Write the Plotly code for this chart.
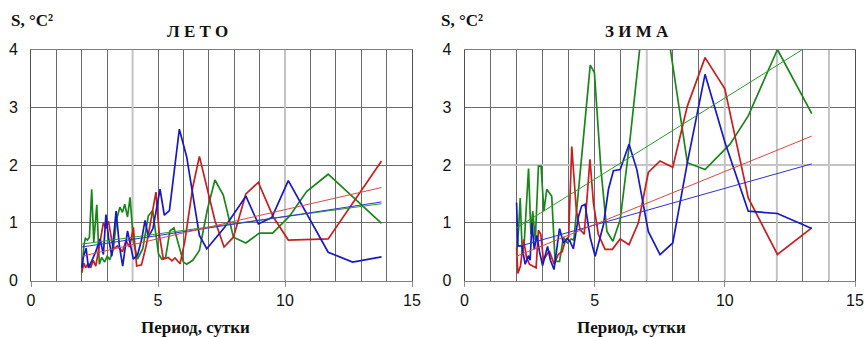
import plotly.graph_objects as go

# ---------------- DATA ----------------
# Summer (ЛЕТО)
summer_blue_x = [2.0, 2.06, 2.17, 2.26, 2.4, 2.55, 2.72, 2.85, 2.95, 3.05, 3.18, 3.35, 3.48, 3.61, 3.8, 4.03, 4.2, 4.35, 4.49, 4.62, 4.8, 5.08, 5.25, 5.45, 5.84, 6.13, 6.63, 6.92, 7.64, 8.46, 8.95, 9.48, 10.13, 11.7, 12.66, 13.8]
summer_blue_y = [0.22, 0.4, 0.56, 0.22, 0.35, 0.5, 0.72, 0.45, 1.14, 0.75, 0.42, 1.2, 0.6, 0.25, 0.86, 0.37, 0.45, 0.7, 1.04, 0.75, 0.9, 1.58, 1.13, 1.21, 2.62, 2.14, 0.78, 0.55, 0.93, 1.46, 0.98, 1.09, 1.73, 0.49, 0.32, 0.41]

summer_red_x = [2.0, 2.08, 2.15, 2.25, 2.35, 2.45, 2.55, 2.72, 2.85, 2.95, 3.05, 3.24, 3.4, 3.6, 3.74, 3.88, 4.03, 4.16, 4.35, 4.55, 4.75, 4.92, 5.05, 5.21, 5.4, 5.55, 5.67, 5.87, 6.06, 6.37, 6.63, 7.24, 7.6, 7.97, 8.46, 8.95, 9.54, 10.13, 11.7, 13.8]
summer_red_y = [0.14, 0.3, 0.22, 0.3, 0.22, 0.35, 0.25, 0.69, 1.0, 0.9, 1.03, 0.54, 0.6, 0.5, 0.69, 0.58, 0.92, 0.25, 0.27, 0.63, 1.1, 1.53, 0.8, 0.37, 0.4, 0.34, 0.39, 0.29, 0.69, 1.62, 2.15, 1.04, 0.58, 0.75, 1.5, 1.7, 1.1, 0.7, 0.72, 2.07]

summer_green_x = [2.0, 2.08, 2.14, 2.22, 2.3, 2.39, 2.47, 2.59, 2.69, 2.78, 2.9, 3.0, 3.1, 3.24, 3.37, 3.5, 3.6, 3.69, 3.8, 3.9, 4.03, 4.19, 4.4, 4.62, 4.79, 5.02, 5.15, 5.3, 5.47, 5.63, 6.0, 6.13, 6.37, 6.63, 6.94, 7.24, 7.57, 7.97, 8.46, 8.99, 9.51, 10.17, 10.85, 11.7, 13.8]
summer_green_y = [0.13, 0.6, 0.73, 0.7, 0.75, 1.58, 0.66, 1.31, 0.28, 0.4, 0.32, 0.42, 0.36, 0.54, 1.06, 1.27, 1.18, 1.32, 1.1, 1.44, 0.69, 0.37, 0.55, 1.12, 1.21, 0.46, 0.37, 0.4, 0.86, 0.91, 0.32, 0.28, 0.35, 0.52, 1.22, 1.74, 1.48, 0.75, 0.65, 0.82, 0.82, 1.11, 1.54, 1.84, 0.99]

summer_trend_x = [2.0, 13.8]
summer_trend_blue = [0.58, 1.36]
summer_trend_red = [0.42, 1.61]
summer_trend_green = [0.63, 1.33]

# Winter (ЗИМА)
winter_blue_x = [2.0, 2.05, 2.2, 2.33, 2.45, 2.52, 2.59, 2.68, 2.78, 2.88, 3.0, 3.1, 3.19, 3.3, 3.44, 3.65, 3.8, 3.95, 4.05, 4.18, 4.38, 4.5, 4.63, 4.83, 5.02, 5.34, 5.53, 5.72, 5.98, 6.32, 6.62, 7.06, 7.51, 8.0, 8.56, 9.24, 10.0, 10.9, 12.02, 13.34]
winter_blue_y = [1.35, 0.6, 0.6, 0.28, 0.43, 0.35, 1.0, 0.54, 0.78, 0.5, 0.26, 0.45, 0.59, 0.35, 0.19, 0.9, 0.65, 0.72, 0.68, 0.55, 1.11, 1.29, 1.32, 0.74, 0.42, 0.97, 1.58, 1.9, 1.92, 2.36, 1.92, 0.85, 0.45, 0.65, 2.04, 3.57, 2.4, 1.2, 1.16, 0.9]

winter_red_x = [2.0, 2.05, 2.15, 2.27, 2.38, 2.5, 2.62, 2.75, 2.84, 2.93, 3.03, 3.15, 3.26, 3.35, 3.44, 3.6, 3.75, 3.88, 4.0, 4.12, 4.3, 4.44, 4.6, 4.82, 4.95, 5.14, 5.4, 5.68, 5.98, 6.32, 6.68, 7.06, 7.51, 8.0, 8.56, 9.24, 10.0, 10.9, 12.02, 13.34]
winter_red_y = [0.57, 0.12, 0.25, 0.71, 0.4, 0.28, 0.25, 0.22, 0.87, 0.8, 0.36, 0.45, 0.51, 0.4, 0.28, 0.45, 0.5, 0.7, 0.75, 2.32, 1.2, 0.88, 0.8, 2.1, 1.35, 0.8, 0.54, 0.54, 0.72, 0.62, 1.0, 1.87, 2.07, 1.96, 3.02, 3.86, 3.32, 1.43, 0.45, 0.91]

winter_green_x = [2.0, 2.08, 2.14, 2.22, 2.3, 2.46, 2.55, 2.62, 2.72, 2.84, 2.94, 3.05, 3.16, 3.35, 3.48, 3.65, 3.8, 3.95, 4.1, 4.2, 4.83, 4.99, 5.24, 5.47, 5.7, 5.98, 6.36, 7.06, 7.51, 8.28, 8.56, 9.24, 10.2, 10.9, 12.02, 13.34]
winter_green_y = [0.45, 0.9, 1.43, 0.45, 0.7, 1.94, 0.8, 1.2, 0.7, 1.98, 1.98, 1.2, 1.58, 1.46, 0.33, 0.33, 0.75, 0.65, 0.72, 0.7, 3.73, 3.6, 1.93, 0.85, 0.68, 1.05, 2.45, 5.4, 5.2, 2.91, 2.04, 1.92, 2.36, 2.85, 4.0, 2.89]

winter_trend_x = [2.0, 13.34]
winter_trend_blue = [0.58, 2.02]
winter_trend_red = [0.42, 2.5]
winter_trend_green = [0.91, 4.1]

x_ticks = [0, 5, 10, 15]
y_ticks = [0, 1, 2, 3, 4]
panel_titles = ["Л Е Т О", "З И М А"]
y_title = "S, °C²"
x_title = "Период, сутки"

# ---------------- STYLE ----------------
W, H = 865, 337
BLUE, RED, GREEN = "#1818c8", "#c81e1e", "#1a861a"
TBLUE, TRED, TGREEN = "#3030d8", "#d84848", "#2a9a2a"
GRID = "#6a6a6a"
LIGHT = "#c4c4c4"
SERIF = "Liberation Serif, Times New Roman, serif"
SANS = "Liberation Sans, Arial, sans-serif"

def px_x(p):
    return p / W

def px_y(p):
    return 1 - p / H

fig = go.Figure()

panels = [
    dict(xa="x", ya="y",
         series=[(summer_green_x, summer_green_y, GREEN), (summer_red_x, summer_red_y, RED), (summer_blue_x, summer_blue_y, BLUE)],
         trend_x=summer_trend_x,
         trends=[(summer_trend_green, TGREEN), (summer_trend_blue, TBLUE), (summer_trend_red, TRED)]),
    dict(xa="x2", ya="y2",
         series=[(winter_green_x, winter_green_y, GREEN), (winter_red_x, winter_red_y, RED), (winter_blue_x, winter_blue_y, BLUE)],
         trend_x=winter_trend_x,
         trends=[(winter_trend_green, TGREEN), (winter_trend_blue, TBLUE), (winter_trend_red, TRED)]),
]

for p in panels:
    for xs, ys, c in p["series"]:
        fig.add_trace(go.Scatter(x=xs, y=ys, mode="lines", xaxis=p["xa"], yaxis=p["ya"],
                                 line=dict(color=c, width=1.7), showlegend=False, hoverinfo="skip"))
    for ys, c in p["trends"]:
        fig.add_trace(go.Scatter(x=p["trend_x"], y=ys, mode="lines", xaxis=p["xa"], yaxis=p["ya"],
                                 line=dict(color=c, width=1), showlegend=False, hoverinfo="skip"))

def xaxis_cfg(domain):
    return dict(domain=domain, range=[0, 15], tickvals=x_ticks, ticktext=[str(v) for v in x_ticks],
                showgrid=True, gridcolor=GRID, gridwidth=1, automargin=False,
                minor=dict(dtick=1, tick0=0, showgrid=True, gridcolor=GRID, gridwidth=1, ticks=""),
                ticks="outside", ticklen=5, tickcolor="#909090",
                showline=True, linecolor="#808080", linewidth=1, mirror=True,
                zeroline=False, tickfont=dict(family=SANS, size=16, color="#111"), fixedrange=True)

def yaxis_cfg(anchor):
    return dict(domain=[px_y(280.5), px_y(49.5)], range=[0, 4], tickvals=y_ticks, anchor=anchor,
                showgrid=True, gridcolor=GRID, gridwidth=1, ticks="", automargin=False,
                showline=True, linecolor="#505050", linewidth=1, mirror=True,
                zeroline=False, ticklabelstandoff=9,
                tickfont=dict(family=SANS, size=16, color="#111"), fixedrange=True)

fig.update_layout(
    width=W, height=H,
    template="none",
    margin=dict(l=0, r=0, t=0, b=0, autoexpand=False),
    paper_bgcolor="white", plot_bgcolor="white",
    xaxis=dict(**xaxis_cfg([px_x(31), px_x(412)]), anchor="y"),
    yaxis=yaxis_cfg("x"),
    xaxis2=dict(**xaxis_cfg([px_x(464.5), px_x(855)]), anchor="y2"),
    yaxis2=yaxis_cfg("x2"),
)

# lighter grid lines as seen in the reference
light_lines = [("x", "y", [4, 10], []), ("x2", "y2", [7, 10, 12, 14], [2])]
shapes = []
for xa, ya, xs, ys in light_lines:
    for v in xs:
        shapes.append(dict(type="line", xref=xa, yref=ya, x0=v, x1=v, y0=0, y1=4,
                           line=dict(color=LIGHT, width=2), layer="between"))
    for v in ys:
        shapes.append(dict(type="line", xref=xa, yref=ya, x0=0, x1=15, y0=v, y1=v,
                           line=dict(color=LIGHT, width=2), layer="between"))
fig.update_layout(shapes=shapes)

ann = []
for cx, title in zip([197, 637], panel_titles):
    ann.append(dict(text="<b>" + title + "</b>", x=px_x(cx), y=px_y(32), xref="paper", yref="paper",
                    xanchor="center", yanchor="middle", showarrow=False,
                    font=dict(family=SERIF, size=17, color="#111")))
for lx in [9, 439]:
    ann.append(dict(text="<b>" + y_title + "</b>", x=px_x(lx), y=px_y(20), xref="paper", yref="paper",
                    xanchor="left", yanchor="middle", showarrow=False,
                    font=dict(family=SERIF, size=17, color="#111")))
for cx in [195, 631]:
    ann.append(dict(text="<b>" + x_title + "</b>", x=px_x(cx), y=px_y(327), xref="paper", yref="paper",
                    xanchor="center", yanchor="middle", showarrow=False,
                    font=dict(family=SERIF, size=17, color="#111")))
fig.update_layout(annotations=ann)

# remove the default page margin so the figure fills the 865x337 window exactly
fig.write_html("out.html",
               config={"displayModeBar": False, "staticPlot": True},
               post_script="document.body.style.margin='0';document.body.style.overflow='hidden';")
